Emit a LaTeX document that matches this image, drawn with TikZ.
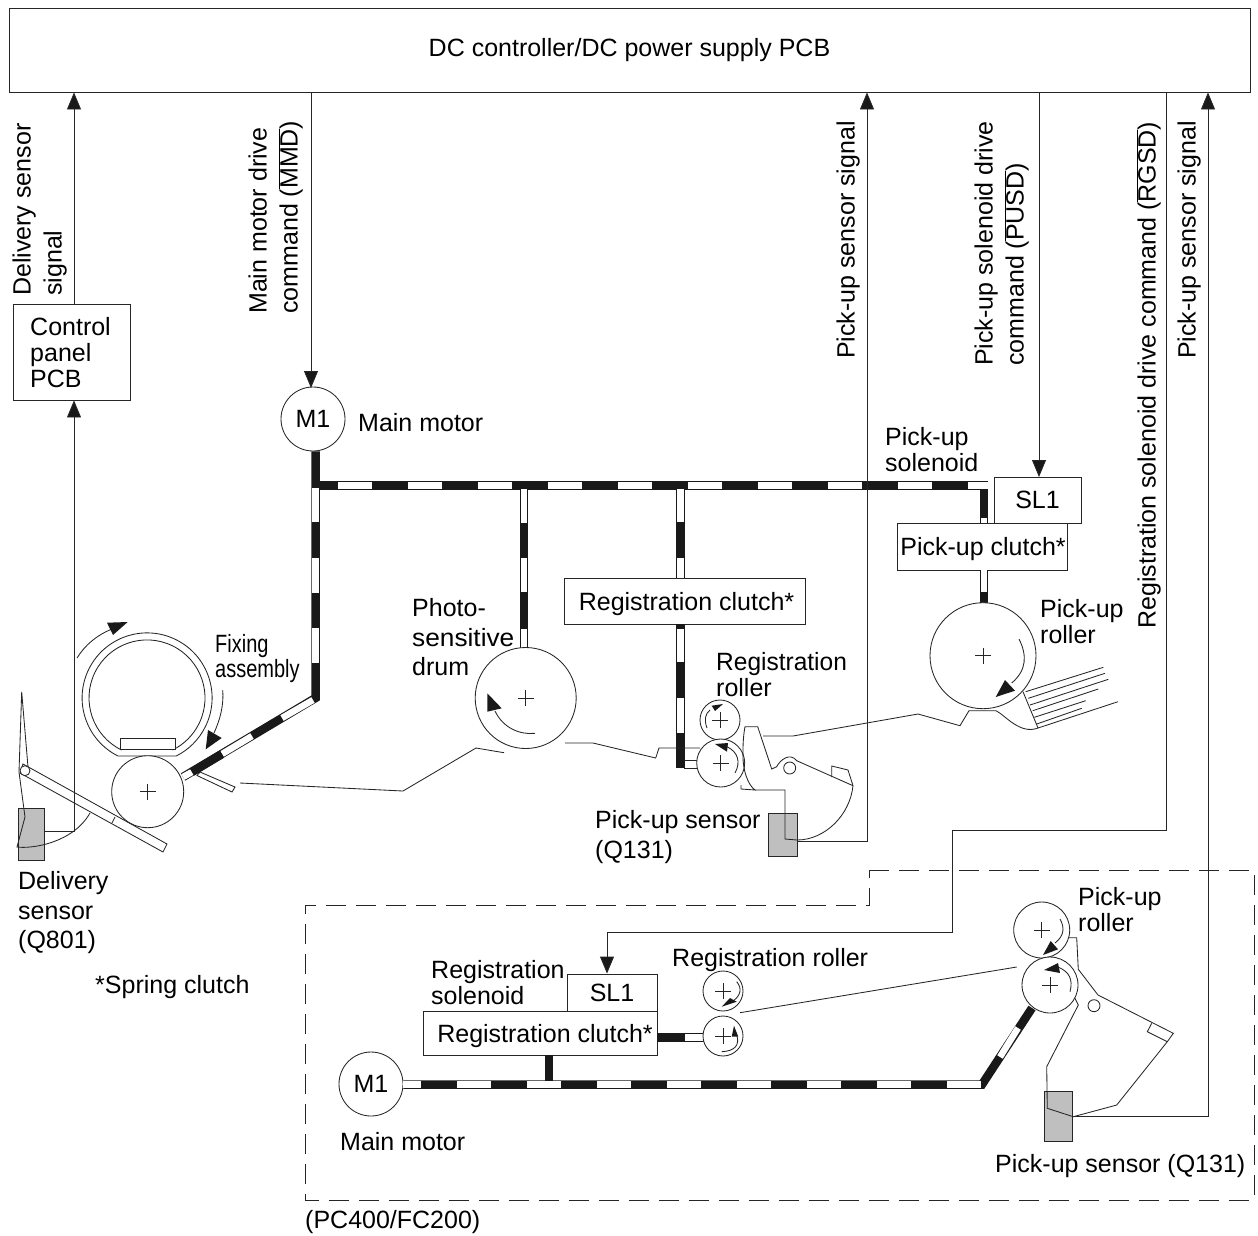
\documentclass[tikz,border=0pt]{standalone}
\usepackage{fontspec}
\setmainfont{Liberation Sans}
\usetikzlibrary{arrows.meta,calc}
\newcommand{\ovl}[1]{$\overline{\hbox{#1}}$}
\newcommand{\crossat}[2]{\draw[ln] ({#1-8},#2) -- ({#1+8},#2) ({#1},{#2-8}) -- ({#1},{#2+8});}
\tikzset{
  ln/.style={draw=black!85,line width=0.85pt},
  sig/.style={ln,-{Triangle[length=17pt,width=14pt,fill=black!90]}},
  boxn/.style={ln,fill=white,inner sep=0pt,font=\fontsize{25}{27}\selectfont},
  clutchbox/.style={boxn,text height=18pt,text depth=0pt},
  roller/.style={ln,fill=white,circle,inner sep=0pt},
  motor/.style={ln,fill=white,circle,inner sep=0pt,minimum size=64pt,font=\fontsize{25}{27}\selectfont},
  lbl/.style={inner sep=0pt,anchor=north west,align=left,font=\fontsize{25}{26}\selectfont},
  lblw/.style={inner sep=0pt,anchor=north west,align=left,font=\fontsize{25}{29.7}\selectfont},
  vlbl/.style={inner sep=0pt,rotate=90,anchor=south west,align=left,font=\fontsize{25}{31}\selectfont},
  beltbase/.style={draw=black!90,line width=8.5pt,line join=miter},
  beltw/.style={draw=white,line width=6.5pt},
  beltd/.style={draw=white,line width=6.5pt,dash pattern=on 34pt off 36pt},
  head/.style={fill=black!90,draw=none},
  sensor/.style={ln,fill=black!25},
  dashbox/.style={ln,dash pattern=on 20pt off 10pt},
}
\begin{document}
\begin{tikzpicture}[x=1pt,y=1pt,yscale=-1]
\useasboundingbox (0,0) rectangle (1258,1235);
% boxes
\node[boxn,minimum width=1241pt,minimum height=84pt] (top) at (629.5,50) {};
\node[inner sep=0pt,font=\fontsize{25}{27}\selectfont] (toptext) at (629.5,50) {DC controller/DC power supply PCB};
\node[boxn,minimum width=117pt,minimum height=96pt] (panel) at (71.5,352) {};
\node[lbl] (paneltext) at (30,317) {Control\\panel\\PCB};
\node[motor] (m1) at (313,419) {M1};
\node[boxn,minimum width=87pt,minimum height=46pt] (sl1) at (1037.5,500) {SL1};
\node[clutchbox,minimum width=170pt,minimum height=47pt] (puclutch) at (982,546.5) {\hspace*{2pt}Pick-up clutch*};
\node[clutchbox,minimum width=241pt,minimum height=46pt] (regclutch) at (684.5,601) {\hspace*{4pt}Registration clutch*};
\node[boxn,minimum width=90pt,minimum height=37pt] (sl2) at (612,992.5) {SL1};
\node[clutchbox,minimum width=234pt,minimum height=44pt] (regclutch2) at (540,1033) {\hspace*{10pt}Registration clutch*};
\node[motor] (m2) at (371,1084) {M1};
% belts
\coordinate (bc) at (315.5,485.5);
\coordinate (bd) at (315.5,698);
\coordinate (be) at (183,777);
\coordinate (bf) at (984,485.5);
\coordinate (bg) at (982,1084.5);
\draw[beltbase] (m1.south -| bc) -- (bd) -- (be);
\draw[beltbase] (bc) -- (bf) -- (puclutch.north -| bf);
\draw[beltbase] (puclutch.south -| bf) -- (984,603);
\draw[beltbase] (524,486) -- (524,648);
\draw[beltbase] (680.5,486) -- (regclutch.north -| 680.5,0);
\draw[beltbase] (regclutch.south -| 680.5,0) -- (680.5,768);
\draw[beltbase] (m2.east |- bg) -- (bg) -- (1032,1008);
\draw[beltbase] (regclutch2.south -| 549,0) -- (549,1084);
\draw[beltbase] (regclutch2.east |- 0,1037.5) -- (705,1037.5);
% white stretches of the belts
\foreach \a/\b in {488/522,558/593,628/663}{\draw[beltw] (315.5,\a) -- (315.5,\b);}
\draw[beltw] (313,700) -- (282,718);
\draw[beltw] (252,736) -- (222,754);
\draw[beltw] (192,772) -- (183,777);
\draw[beltd] (338,485.5) -- (988,485.5);
\draw[beltw] (984,518) -- (984,523);
\draw[beltw] (984,570) -- (984,592);
\draw[beltw] (524,489) -- (524,523);
\draw[beltw] (524,558) -- (524,592);
\draw[beltw] (524,629) -- (524,648);
\draw[beltw] (680.5,489) -- (680.5,522);
\draw[beltw] (680.5,558) -- (680.5,578);
\draw[beltw] (680.5,629) -- (680.5,662);
\draw[beltw] (680.5,698) -- (680.5,733);
\draw[ln] (684,760.5) -- (698,760.5) (684,768) -- (697,768);
\draw[beltw] (403,1084.5) -- (421,1084.5);
\draw[beltd] (457,1084.5) -- (981,1084.5);
\draw[beltw] (1000,1057) -- (1018,1028);
\draw[beltw] (685,1037.5) -- (705,1037.5);
% connectors
\coordinate (dsj) at (74,831.5);
\draw[sig] (panel.north -| dsj) -- (top.south -| dsj);
\draw[sig] (dsj) -- (panel.south -| dsj);
\draw[ln] (dsj) -- (44,831.5);
\coordinate (mmd) at (311,388);
\draw[sig] (top.south -| mmd) -- (mmd);
\coordinate (pusj) at (867,841);
\draw[sig] (797,841) -- (pusj) -- (top.south -| pusj);
\coordinate (pusd) at (1039,477);
\draw[sig] (top.south -| pusd) -- (pusd);
\coordinate (rg1) at (1166,830);
\coordinate (rg2) at (952,830);
\coordinate (rg3) at (952,932);
\coordinate (rg4) at (607,932);
\draw[sig] (top.south -| rg1) -- (rg1) -- (rg2) -- (rg3) -- (rg4) -- (sl2.north -| rg4);
\coordinate (ps2) at (1208,1116);
\draw[sig] (1073,1116) -- (ps2) -- (top.south -| ps2);
% dashed frame
\draw[dashbox] (869,870) -- (1254,870) -- (1254,1200) -- (305,1200) -- (305,905) -- (869,905) -- cycle;
% delivery
\draw[sensor] (18,808) rectangle (44,860);
\draw[ln] (23,764) -- (20,773) -- (163,852) -- (167,844) -- cycle;
\draw[ln,fill=white] (25,770.7) circle[radius=5pt];
\draw[ln] (28,767) -- (21.7,692) -- (19,772) -- (25,817) -- (17,847) .. controls (32,849) and (73,843) .. (90,813);
\draw[ln] (112,823) -- (115,817);
% fixing assembly
\draw[ln,fill=white] (118,756) arc[start angle=116.6,end angle=423.4,radius=65pt] -- cycle;
\draw[ln] (121.5,750) arc[start angle=116.1,end angle=423.9,radius=58pt];
\draw[ln,fill=white] (120,738) rectangle (175,749);
\node[roller,minimum size=72pt] (fixr) at (147.7,791.7) {};
\crossat{147.7}{791.7}
\draw[ln] (77,658) .. controls (85,645) and (97,635) .. (112,629);
\fill[head] (107,622.7) -- (127.7,622) -- (113,635) -- cycle;
\draw[ln] (222.7,690) .. controls (224,705) and (220,720) .. (214,733);
\fill[head] (205.7,749.3) -- (208,730) -- (221.7,738) -- cycle;
\draw[ln,fill=white] (200,772) -- (235,787) -- (232,792) -- (197,775.5) -- cycle;
\draw[beltbase] (222,754) -- (192,772);
% paper paths
\draw[ln] (240,783) -- (403,791) -- (476,748) -- (504,752.7);
\draw[ln] (565,743) -- (593,743) -- (655.7,758) -- (659,748) -- (700,748);
\draw[ln] (763,736) -- (793,736) -- (918,714) -- (960,725.7) -- (969,710.7) -- (996,710.7)
   .. controls (1005,715) and (1020,735) .. (1038,728) -- (1118,701.7);
% drum
\node[roller,minimum size=101pt] (drum) at (525.7,698) {};
\crossat{525.7}{698}
\draw[ln] (535,733.3) .. controls (520,735) and (503,728) .. (495,711);
\fill[head] (487.3,693.3) -- (487.3,711.7) -- (501.7,708.3) -- cycle;
% pick-up roller
\node[roller,minimum size=106pt] (puroll) at (983,655.7) {};
\crossat{983}{655.7}
\draw[ln] (1019,639) .. controls (1027,655) and (1027,670) .. (1011.7,683);
\fill[head] (995.7,697) -- (1005,680) -- (1015,690.7) -- cycle;
\draw[ln] (1023,691.7) -- (1038,728);
\draw[ln] (1025.7,691.7) -- (1103.3,667.3);
\draw[ln] (1028.3,698.3) -- (1105,673.3);
\draw[ln] (1030,705) -- (1108.3,679.3);
\draw[ln] (1032.7,710.7) -- (1098.3,689);
\draw[ln] (1034.3,717.3) -- (1085.7,700.7);
\draw[ln] (1036.7,724) -- (1081.7,708.3);
% registration rollers, upper
\node[roller,minimum size=40pt] (ru1) at (720,720) {};
\crossat{720}{720}
\draw[ln] (707,728) .. controls (704,720) and (705,714) .. (710,710);
\fill[head] (723,704) -- (711.7,705.7) -- (715,711) -- cycle;
\node[roller,minimum size=48pt] (ru2) at (720.7,763) {};
\crossat{720.7}{763}
\draw[ln] (735,773) .. controls (741,762) and (738,752) .. (727,746.7);
\fill[head] (715,744) -- (728,743) -- (727,751.7) -- cycle;
% guide
\draw[ln] (741,785) -- (741,789) -- (755,790) .. controls (748,785) and (742,770) .. (743,750) .. controls (743,740) and (744,732) .. (745,726.7) -- (757.7,726.7) -- (771.7,769) -- (776.7,766.7) .. controls (780,760) and (790,752) .. (796.7,760.7) -- (853,785.7);
\draw[sensor] (768,813) rectangle (797,856.7);
\draw[ln] (755,790) -- (785,790) -- (785,839) -- (797,840) .. controls (825,840) and (850,815) .. (853,785.7);
\draw[ln] (831.7,777) -- (831.7,766) -- (848,770) -- (853,785.7);
\draw[ln] (789.7,768) circle[radius=6pt];
% lower group
\node[roller,minimum size=40pt] (rl1) at (723,991) {};
\crossat{723}{991}
\draw[ln] (736.7,981.7) .. controls (742,988) and (742,996) .. (730,1003);
\fill[head] (721.7,1006.7) -- (730,998) -- (736.7,1001.7) -- cycle;
\node[roller,minimum size=40pt] (rl2) at (723,1036) {};
\crossat{723}{1036}
\draw[ln] (721.7,1051.7) .. controls (735,1051) and (740,1045) .. (736.7,1035);
\fill[head] (734,1025.7) -- (731.7,1036.7) -- (738.3,1036.7) -- cycle;
\draw[ln] (740,1012.7) -- (1016.7,967);
\node[roller,minimum size=56pt] (pl1) at (1041.7,930) {};
\crossat{1041.7}{930}
\draw[ln] (1060,919) .. controls (1065,928) and (1064,936) .. (1055,943);
\fill[head] (1043,955) -- (1050.7,941) -- (1058,949.3) -- cycle;
\node[roller,minimum size=56pt] (pl2) at (1050,985) {};
\crossat{1050}{985}
\draw[ln] (1070,991.7) .. controls (1073,980) and (1070,972) .. (1058,967);
\fill[head] (1044,970) -- (1058,963) -- (1060,973) -- cycle;
\draw[sensor] (1044.3,1091.7) rectangle (1072.3,1141.7);
\draw[ln] (1069,937.7) -- (1076.7,937.7) -- (1078.3,969.3) -- (1098,995) -- (1173.3,1033.3) -- (1167.3,1041.7) -- (1116.7,1105) -- (1073.3,1116.7) -- (1047.3,1108.3) -- (1046.7,1066.7) -- (1078.3,1005) -- (1075,998.3);
\draw[ln] (1151.7,1023.3) -- (1147.3,1031.7) -- (1167.3,1041.7);
\draw[ln] (1094,1005.7) circle[radius=6pt];
% labels
\node[vlbl] (l1) at (67,296) {Delivery sensor\\signal};
\node[vlbl] (l2) at (303,314) {Main motor drive\\command (\ovl{MMD})};
\node[vlbl] (l3) at (860,359) {Pick-up sensor signal};
\node[vlbl] (l4) at (1029,366) {Pick-up solenoid drive\\command (\ovl{PUSD})};
\node[vlbl] (l5) at (1161,629) {Registration solenoid drive command (\ovl{RGSD})};
\node[vlbl] (l6) at (1201,359) {Pick-up sensor signal};
\node[lbl] (t1) at (358,413) {Main motor};
\node[lbl] (t2) at (885,427) {Pick-up\\solenoid};
\node[lbl] (t3) at (1040,599) {Pick-up\\roller};
\node[lblw] (t4) at (412,598) {Photo-\\\scalebox{1.05}[1]{sensitive}\\drum};
\node[lbl] (t5) at (716,652) {\scalebox{0.98}[1]{Registration}\\roller};
\node[lblw] (t6) at (595,810) {Pick-up sensor\\(Q131)};
\node[lblw] (t7) at (18,871) {Delivery\\sensor\\(Q801)};
\node[lbl] (t8) at (95,975) {*Spring clutch};
\node[lbl] (t9) at (431,960) {Registration\\solenoid};
\node[lbl] (t10) at (672,948) {Registration roller};
\node[lbl] (t11) at (1078,887) {Pick-up\\roller};
\node[lbl] (t12) at (340,1132) {Main motor};
\node[lbl] (t13) at (995,1154) {Pick-up sensor (Q131)};
\node[lbl] (t14) at (305,1210.5) {(PC400/FC200)};
\node[inner sep=0pt,anchor=north west,align=left,font=\fontsize{25}{25}\selectfont] (t15) at (215,634) {\scalebox{0.8}[1]{Fixing}\\\scalebox{0.8}[1]{assembly}};
\end{tikzpicture}
\end{document}
